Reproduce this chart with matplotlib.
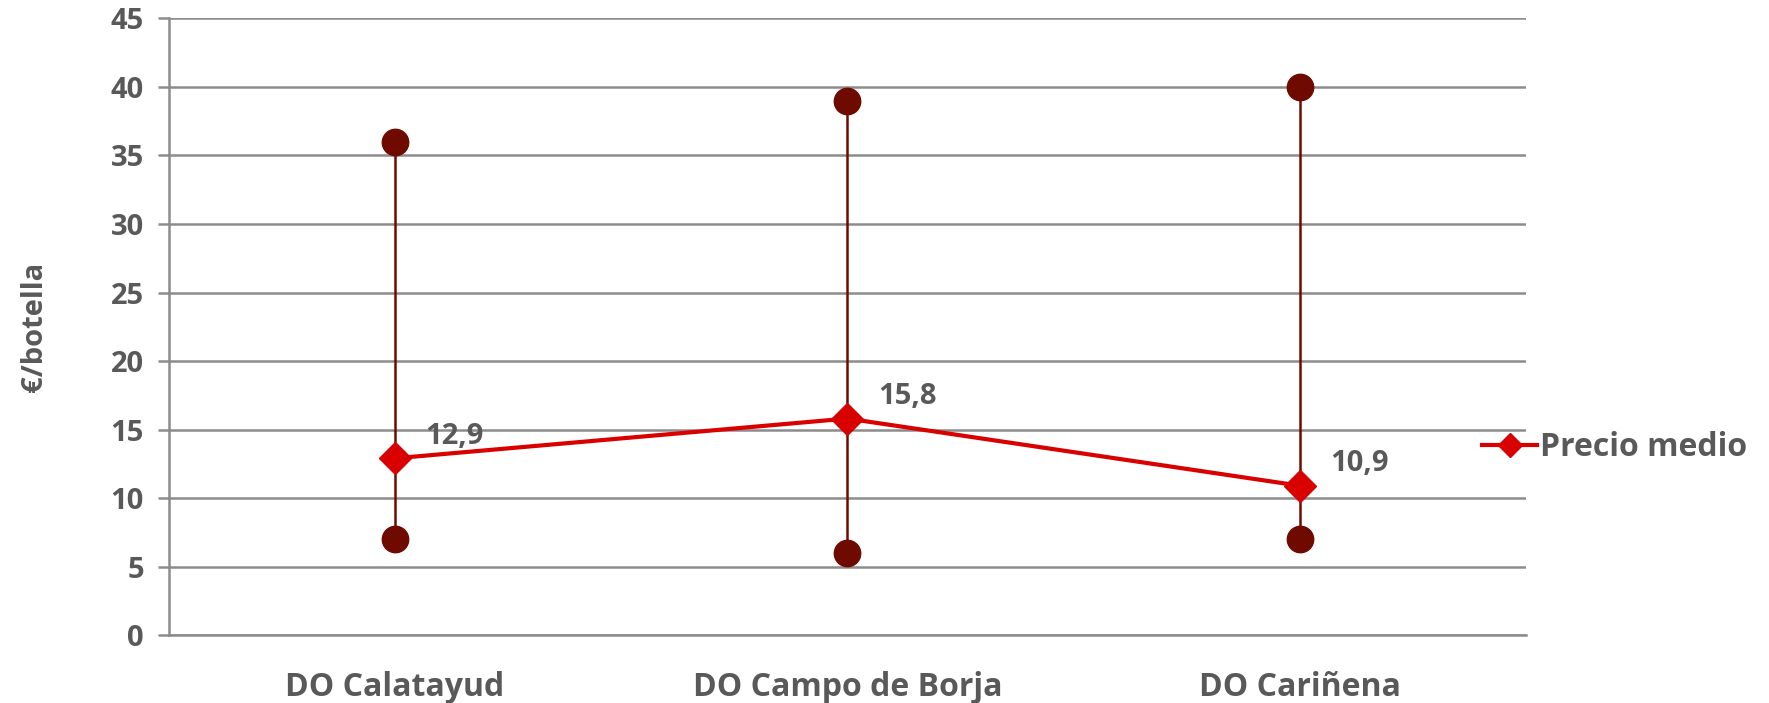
import matplotlib
matplotlib.use("Agg")
import matplotlib.pyplot as plt
import numpy as np

# datos
categorias = ["DO Calatayud", "DO Campo de Borja", "DO Cariñena"]
precio_max = [36, 39, 40]
precio_min = [7, 6, 7]
precio_medio = [12.9, 15.8, 10.9]
etiquetas_medio = ["12,9", "15,8", "10,9"]
yticks = [0, 5, 10, 15, 20, 25, 30, 35, 40, 45]

gris = "#595959"
rejilla = "#8c8c8c"
rojo = "#d90000"
granate = "#6e0a00"

plt.rcParams['font.family'] = ['Open Sans', 'DejaVu Sans']
plt.rcParams['font.weight'] = 'bold'

fig = plt.figure(figsize=(17.69, 7.03), dpi=100)
ax = fig.add_axes([0.0955, 0.0967, 0.767, 0.877])

x = np.arange(len(categorias))

# lineas max-min
for i in range(len(x)):
    ax.plot([x[i], x[i]], [precio_min[i], precio_max[i]], color=granate, lw=1.8, zorder=3)
ax.plot(x, precio_max, 'o', color=granate, ms=19, zorder=4, linestyle='none')
ax.plot(x, precio_min, 'o', color=granate, ms=19, zorder=4, linestyle='none')

# precio medio
ax.plot(x, precio_medio, '-D', color=rojo, lw=3, ms=16, zorder=5, label="Precio medio")
for i in range(len(x)):
    ax.annotate(etiquetas_medio[i], (x[i], precio_medio[i]), xytext=(43, 16),
                textcoords='offset points', ha='center', va='center',
                fontsize=21, color=gris, fontweight='bold')

ax.set_xlim(-0.5, 2.5)
ax.set_ylim(0, 45)
ax.set_yticks(yticks)
ax.set_xticks(x)
ax.set_xticklabels(categorias)
ax.grid(axis='y', color=rejilla, lw=1.8)
ax.set_axisbelow(True)
for s in ['top', 'right']:
    ax.spines[s].set_visible(False)
ax.spines['left'].set_color(rejilla)
ax.spines['left'].set_linewidth(1.8)
ax.spines['bottom'].set_color(rejilla)
ax.spines['bottom'].set_linewidth(1.8)
ax.tick_params(axis='y', colors=gris, labelsize=21, length=8, width=1.8, color=rejilla, pad=10)
ax.tick_params(axis='x', colors=gris, labelsize=23, length=0, pad=26)
for t in ax.get_yticklabels() + ax.get_xticklabels():
    t.set_fontweight('bold')

ax.set_ylabel("€/botella", fontsize=21, color=gris, fontweight='bold', labelpad=44)

fig.legend(loc='center left', bbox_to_anchor=(0.838, 0.363), frameon=False,
           labelcolor=gris, handlelength=1.7, handletextpad=0.1,
           borderpad=0, borderaxespad=0, markerscale=0.75,
           prop={'weight': 'bold', 'size': 23})

plt.savefig("out.png", dpi=100)
